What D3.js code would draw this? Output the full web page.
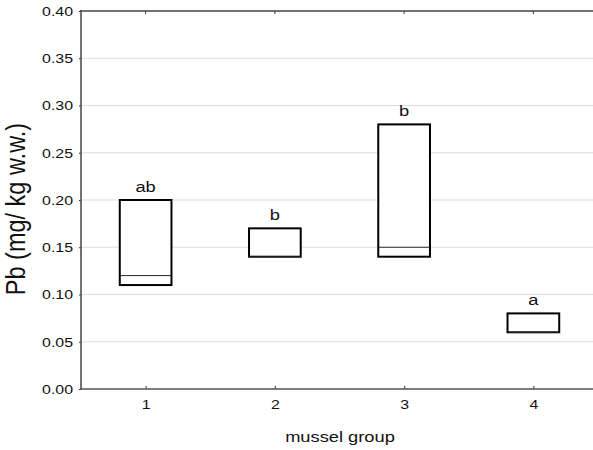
<!DOCTYPE html>
<html><head><meta charset="utf-8">
<script src="https://cdn.jsdelivr.net/npm/d3@7"></script>
<style>body{margin:0;background:#fff}svg{display:block;font-family:"Liberation Sans",Arial,sans-serif}</style>
</head><body><svg id="c" width="593" height="450"></svg>
<script>
const groups = [1, 2, 3, 4];
const boxLow = [0.11, 0.14, 0.14, 0.06];
const boxHigh = [0.20, 0.17, 0.28, 0.08];
const medians = [0.12, 0.14, 0.15, 0.06];
const letters = ["ab", "b", "b", "a"];
const yTicks = [0, 0.05, 0.10, 0.15, 0.20, 0.25, 0.30, 0.35, 0.40];

const svg = d3.select("#c");
const x = d3.scaleLinear().domain([0.5, 4.5]).range([81, 598]);
const y = d3.scaleLinear().domain([0, 0.40]).range([389, 11]);
const W = 593;
const bw = 0.4;
const SX = 1.18;

// gridlines
svg.append("g").selectAll("line").data(yTicks.filter(d => d > 0 && d < 0.4)).join("line")
  .attr("x1", 82).attr("x2", W).attr("y1", d => y(d)).attr("y2", d => y(d))
  .attr("stroke", "#dcdcdc").attr("stroke-width", 1);

// left axis
const ya = svg.append("g").attr("transform", "translate(81,0)")
  .call(d3.axisLeft(y).tickValues(yTicks).tickFormat(d3.format(".2f")).tickSize(2).tickPadding(6));
ya.select(".domain").remove();
ya.selectAll("line").attr("stroke", "#333");
ya.selectAll("text").attr("font-size", 13.5).attr("fill", "#111")
  .attr("x", -8 / SX).attr("transform", `scale(${SX},1)`);

// bottom axis
const xa = svg.append("g").attr("transform", "translate(0,389)")
  .call(d3.axisBottom(x).tickValues(groups).tickFormat(d3.format("d")).tickSize(-3).tickPadding(10));
xa.select(".domain").remove();
xa.selectAll("line").attr("stroke", "#333");
xa.selectAll("text").attr("font-size", 13.5).attr("fill", "#111").attr("transform", `scale(${SX},1)`);

// top ticks
svg.append("g").selectAll("line").data(groups).join("line")
  .attr("x1", d => x(d)).attr("x2", d => x(d)).attr("y1", 11).attr("y2", 14)
  .attr("stroke", "#333");

// spines
svg.append("line").attr("x1", 81).attr("x2", 81).attr("y1", 10).attr("y2", 390)
  .attr("stroke", "#444").attr("stroke-width", 1.5);
svg.append("line").attr("x1", 80).attr("x2", W).attr("y1", 389).attr("y2", 389)
  .attr("stroke", "#555").attr("stroke-width", 1.5);
svg.append("line").attr("x1", 80).attr("x2", W).attr("y1", 11).attr("y2", 11)
  .attr("stroke", "#444").attr("stroke-width", 1.5);

// boxes
const g = svg.append("g");
groups.forEach((gr, i) => {
  g.append("rect")
    .attr("x", x(gr - bw / 2)).attr("width", x(gr + bw / 2) - x(gr - bw / 2))
    .attr("y", y(boxHigh[i])).attr("height", y(boxLow[i]) - y(boxHigh[i]))
    .attr("fill", "#fff").attr("stroke", "#000").attr("stroke-width", 2);
  g.append("line")
    .attr("x1", x(gr - bw / 2)).attr("x2", x(gr + bw / 2))
    .attr("y1", y(medians[i])).attr("y2", y(medians[i]))
    .attr("stroke", "#222").attr("stroke-width", 1);
  g.append("text")
    .attr("transform", `translate(${x(gr)},${y(boxHigh[i]) - 8}) scale(${SX},1)`)
    .attr("text-anchor", "middle").attr("font-size", 15.5).attr("fill", "#111").text(letters[i]);
});

// axis titles
svg.append("text").attr("transform", `translate(25,209) scale(${SX},1) rotate(-90)`)
  .attr("text-anchor", "middle").attr("font-size", 23.5).attr("fill", "#111").text("Pb (mg/ kg w.w.)");
svg.append("text").attr("transform", `translate(340,442) scale(${SX},1)`).attr("text-anchor", "middle")
  .attr("font-size", 15.5).attr("fill", "#111").text("mussel group");
</script></body></html>
